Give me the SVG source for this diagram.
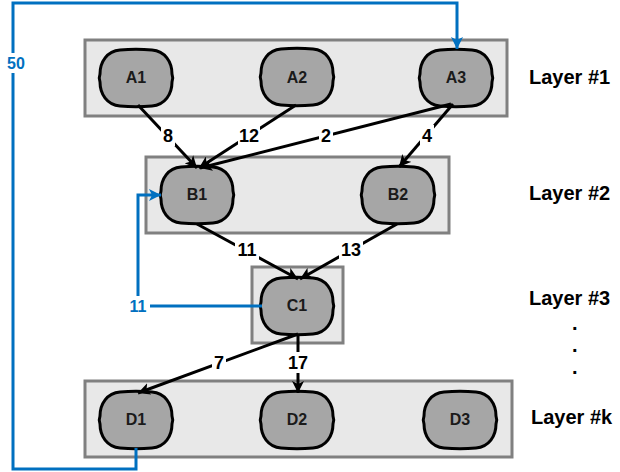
<svg xmlns="http://www.w3.org/2000/svg" xmlns:xlink="http://www.w3.org/1999/xlink" width="620" height="472" viewBox="0 0 620 472">
<style>
.layer{fill:#e8e8e8;stroke:#808080;stroke-width:3}
.node{fill:#a6a6a6;stroke:#000;stroke-width:3}
.nt{font-family:"Liberation Sans",Arial,sans-serif;font-weight:bold;font-size:16px;fill:#1a1a1a;text-anchor:middle}
.lt{font-family:"Liberation Sans",Arial,sans-serif;font-weight:bold;font-size:20px;fill:#000}
.el{font-family:"Liberation Sans",Arial,sans-serif;font-weight:bold;font-size:18px;fill:#000;text-anchor:middle}
.bl{font-family:"Liberation Sans",Arial,sans-serif;font-weight:bold;font-size:16px;fill:#0070c0;text-anchor:middle}
.e{stroke:#000;stroke-width:3;fill:none;marker-end:url(#ah)}
.b{stroke:#0070c0;stroke-width:3;fill:none}
.bg{fill:#fff}
</style>
<defs>
<path id="nshape" d="M20,0 Q36,-1.5 52,0 C65,1 72,12 72,24 Q73.5,28 72,32 C72,44 65,55 52,56 Q36,57.5 20,56 C7,55 0,44 0,32 Q-1.5,28 0,24 C0,12 7,1 20,0 Z"/>
<marker id="ah" markerUnits="userSpaceOnUse" markerWidth="13" markerHeight="12" refX="12" refY="6" orient="auto">
<path d="M0,0 L12,6 L0,12 L3,6 Z" fill="#000"/>
</marker>
<marker id="bh" markerUnits="userSpaceOnUse" markerWidth="13" markerHeight="12" refX="12" refY="6" orient="auto">
<path d="M0,0 L12,6 L0,12 L3,6 Z" fill="#0070c0"/>
</marker>
</defs>

<g id="layer1"><rect class="layer" x="85" y="40" width="422" height="76"/></g>
<g id="layer2"><rect class="layer" x="146" y="157" width="303" height="76"/></g>
<g id="layer3"><rect class="layer" x="252" y="267" width="91" height="76"/></g>
<g id="layerk"><rect class="layer" x="85" y="381" width="427" height="76"/></g>

<g id="A1"><use xlink:href="#nshape" class="node" x="100" y="50"/><text class="nt" x="136" y="83">A1</text></g>
<g id="A2"><use xlink:href="#nshape" class="node" x="261" y="49"/><text class="nt" x="297" y="83">A2</text></g>
<g id="A3"><use xlink:href="#nshape" class="node" x="420" y="50"/><text class="nt" x="456" y="83">A3</text></g>
<g id="B1"><use xlink:href="#nshape" class="node" x="161" y="167"/><text class="nt" x="197" y="200">B1</text></g>
<g id="B2"><use xlink:href="#nshape" class="node" x="362" y="167"/><text class="nt" x="398" y="200">B2</text></g>
<g id="C1"><use xlink:href="#nshape" class="node" x="261" y="278"/><text class="nt" x="297" y="311">C1</text></g>
<g id="D1"><use xlink:href="#nshape" class="node" x="100" y="392"/><text class="nt" x="136" y="425">D1</text></g>
<g id="D2"><use xlink:href="#nshape" class="node" x="261" y="392"/><text class="nt" x="297" y="425">D2</text></g>
<g id="D3"><use xlink:href="#nshape" class="node" x="424" y="392"/><text class="nt" x="460" y="425">D3</text></g>

<g id="connectors">
<line class="e" x1="138" y1="105" x2="197" y2="168"/>
<line class="e" x1="296" y1="105" x2="199" y2="168"/>
<line class="e" x1="451" y1="104" x2="200" y2="168"/>
<line class="e" x1="453" y1="104" x2="399" y2="167"/>
<line class="e" x1="197" y1="224" x2="298" y2="279"/>
<line class="e" x1="397" y1="224" x2="300" y2="279"/>
<line class="e" x1="298" y1="334" x2="138" y2="393"/>
<line class="e" x1="298" y1="334" x2="298" y2="393"/>
<polyline class="b" points="136,448 136,469 13,469 13,3 457,3 457,49" marker-end="url(#bh)"/>
<polyline class="b" points="262,306 138,306 138,195 161,195" marker-end="url(#bh)"/>
</g>

<g id="edge-labels">
<rect class="bg" x="161" y="125" width="14" height="21"/><text class="el" x="168" y="142">8</text>
<rect class="bg" x="238" y="125" width="22" height="21"/><text class="el" x="249" y="142">12</text>
<rect class="bg" x="319" y="125" width="14" height="21"/><text class="el" x="326" y="142">2</text>
<rect class="bg" x="420" y="125" width="14" height="21"/><text class="el" x="427" y="142">4</text>
<rect class="bg" x="235" y="239" width="24" height="21"/><text class="el" x="247" y="256">11</text>
<rect class="bg" x="339" y="239" width="24" height="21"/><text class="el" x="351" y="256">13</text>
<rect class="bg" x="212" y="352" width="14" height="21"/><text class="el" x="219" y="369">7</text>
<rect class="bg" x="287" y="352" width="22" height="21"/><text class="el" x="298" y="369">17</text>
<rect class="bg" x="4" y="53" width="24" height="20"/><text class="bl" x="16" y="69">50</text>
<rect class="bg" x="126" y="296" width="24" height="20"/><text class="bl" x="138" y="312">11</text>
</g>

<g id="layer-labels">
<text class="lt" x="529" y="84">Layer #1</text>
<text class="lt" x="529" y="200">Layer #2</text>
<text class="lt" x="529" y="305">Layer #3</text>
<text class="lt" x="572" y="330">.</text>
<text class="lt" x="572" y="352">.</text>
<text class="lt" x="572" y="374">.</text>
<text class="lt" x="531" y="424">Layer #k</text>
</g>
</svg>
